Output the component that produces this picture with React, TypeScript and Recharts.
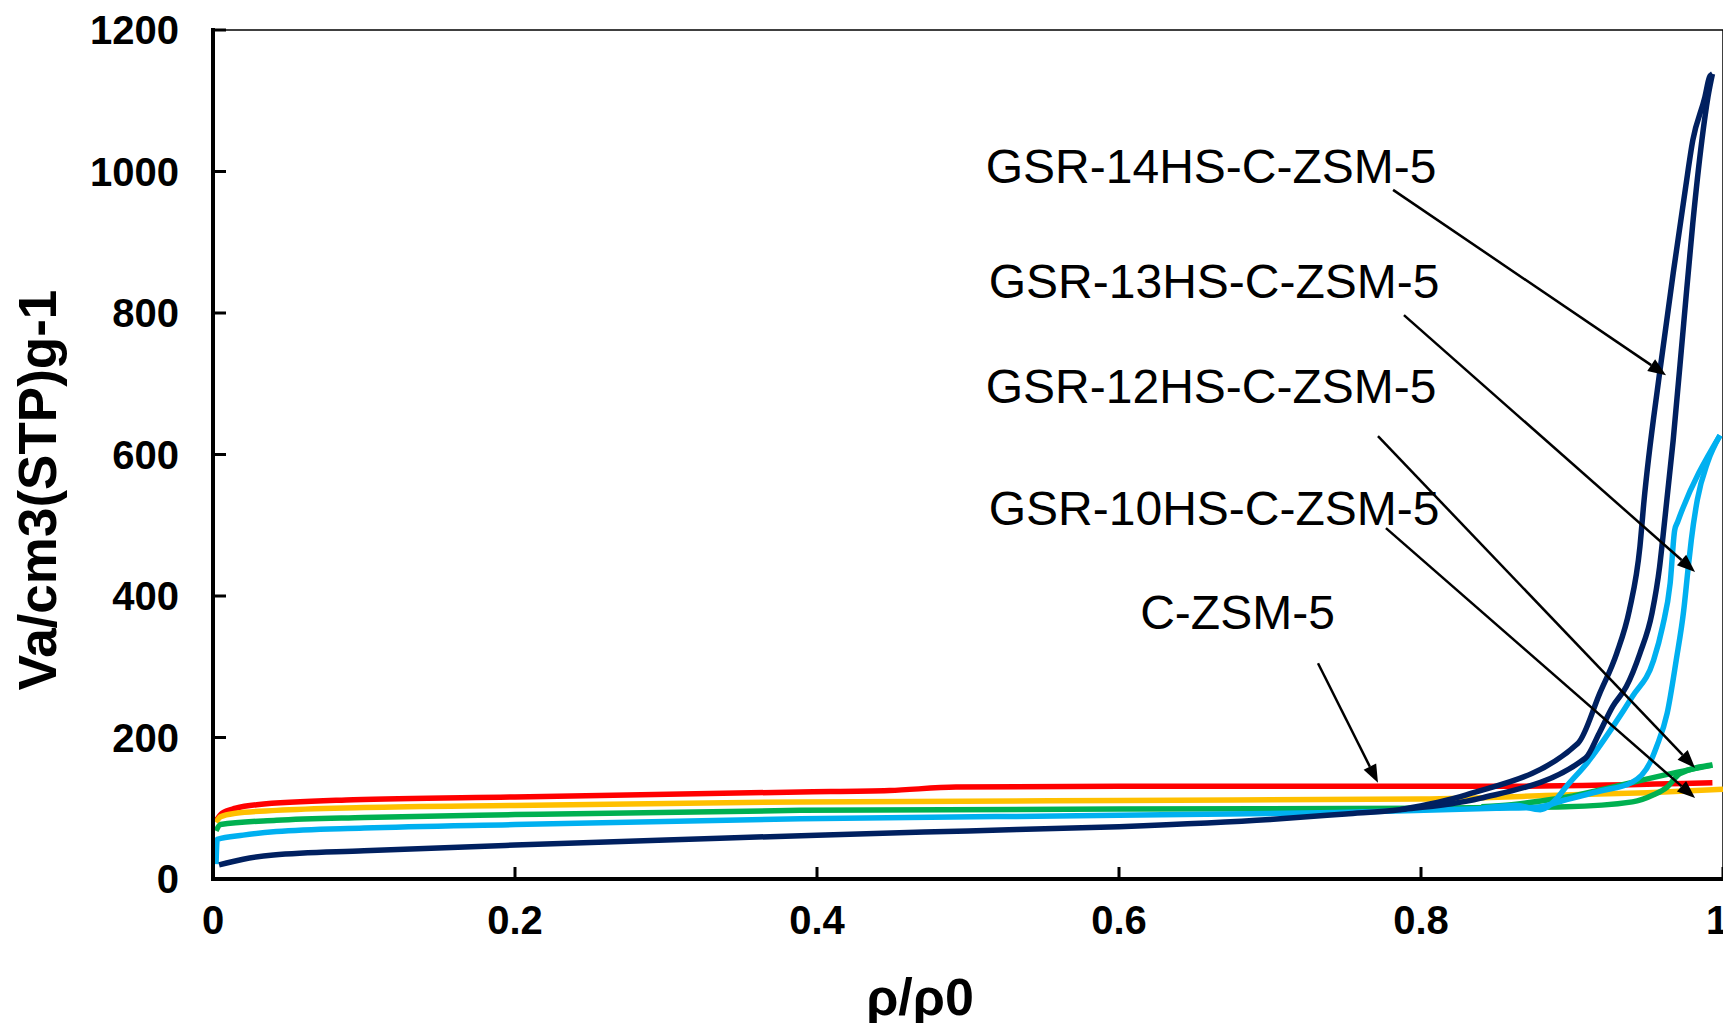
import React from "react";
import {
  LineChart,
  Line,
  XAxis,
  YAxis,
  ReferenceLine,
  ReferenceDot,
  Label,
} from "recharts";

// axis ticks
const xTicks = [0, 0.2, 0.4, 0.6, 0.8, 1];
const yTicks = [0, 200, 400, 600, 800, 1000, 1200];

// isotherms: [p/p0, Va]
const cZsm5: [number, number][] = [
  [0.002, 82], [0.006, 93], [0.015, 100], [0.029, 105], [0.093, 112],
  [0.2, 116], [0.389, 123], [0.448, 125], [0.492, 130], [0.6, 131],
  [0.852, 131], [0.993, 136],
];

const gsr10: [number, number][] = [
  [0.002, 80], [0.005, 88], [0.015, 93], [0.042, 97], [0.1, 101],
  [0.2, 104], [0.389, 109], [0.6, 111], [0.8, 113], [0.9, 119],
  [0.95, 122], [1.0, 127],
];

const gsr12Ads: [number, number][] = [
  [0.002, 68], [0.005, 77], [0.042, 83], [0.1, 87], [0.2, 91],
  [0.389, 97], [0.6, 99], [0.8, 100], [0.85, 101], [0.896, 102],
  [0.94, 109], [0.954, 119], [0.963, 130], [0.9715, 149], [0.993, 161],
];
const gsr12Des: [number, number][] = [
  [0.84, 102], [0.86, 105], [0.885, 112], [0.9, 117], [0.923, 128],
  [0.945, 139], [0.97, 151], [0.993, 161],
];

const gsr13Ads: [number, number][] = [
  [0.002, 21], [0.0028, 56], [0.02, 62], [0.042, 67], [0.1, 72],
  [0.2, 77], [0.389, 85], [0.6, 90], [0.744, 94], [0.85, 100],
  [0.875, 101], [0.896, 112], [0.918, 124], [0.94, 137], [0.952, 166],
  [0.956, 187], [0.963, 234], [0.969, 309], [0.974, 380], [0.977, 441],
  [0.979, 479], [0.983, 536], [0.99, 590], [0.998, 627],
];
const gsr13Des: [number, number][] = [
  [0.84, 100], [0.863, 104], [0.879, 98], [0.89, 114], [0.896, 130],
  [0.91, 164], [0.927, 215], [0.94, 258], [0.954, 309], [0.96, 357],
  [0.965, 418], [0.968, 493], [0.97, 505], [0.998, 627],
];

const gsr14Ads: [number, number][] = [
  [0.004, 20], [0.02, 28], [0.04, 34], [0.1, 40], [0.2, 48],
  [0.3, 55], [0.4, 62], [0.5, 68], [0.6, 74], [0.7, 84],
  [0.75, 92], [0.786, 98], [0.839, 114], [0.909, 171], [0.918, 206],
  [0.927, 244], [0.936, 272], [0.945, 319], [0.953, 376], [0.958, 441],
  [0.96, 479], [0.967, 620], [0.974, 786], [0.98, 927], [0.986, 1044],
  [0.99, 1105], [0.993, 1138],
];
const gsr14Des: [number, number][] = [
  [0.786, 98], [0.83, 119], [0.904, 192], [0.9185, 263], [0.9296, 319],
  [0.938, 380], [0.945, 470], [0.9475, 530], [0.958, 715], [0.967, 856],
  [0.975, 974], [0.98, 1044], [0.988, 1105], [0.991, 1133], [0.993, 1138],
];

const toXY = (a: [number, number][]) => a.map(([x, y]) => ({ x, y }));

const series = [
  { key: "c", color: "#FF0000", data: cZsm5 },
  { key: "g10", color: "#FFC000", data: gsr10 },
  { key: "g12a", color: "#00B050", data: gsr12Ads },
  { key: "g12d", color: "#00B050", data: gsr12Des },
  { key: "g13a", color: "#00B0F0", data: gsr13Ads },
  { key: "g13d", color: "#00B0F0", data: gsr13Des },
  { key: "g14a", color: "#002060", data: gsr14Ads },
  { key: "g14d", color: "#002060", data: gsr14Des },
];

// callouts: label text, label anchor (centre x, baseline y), arrow from -> to
const callouts = [
  { text: "GSR-14HS-C-ZSM-5", at: [0.661, 984], from: [0.7815, 974], to: [0.9623, 712] },
  { text: "GSR-13HS-C-ZSM-5", at: [0.663, 821], from: [0.7887, 797], to: [0.9815, 434] },
  { text: "GSR-12HS-C-ZSM-5", at: [0.661, 673], from: [0.7715, 626], to: [0.9815, 157] },
  { text: "GSR-10HS-C-ZSM-5", at: [0.663, 500], from: [0.7768, 496], to: [0.9815, 114.5] },
  { text: "C-ZSM-5", at: [0.6785, 353], from: [0.7318, 305], to: [0.7715, 136] },
];

const FONT = "'Liberation Sans', Arial, Helvetica, sans-serif";

const YTick = ({ x, y, payload }: any) => (
  <g>
    <line x1={x} y1={y} x2={x + 13} y2={y} stroke="#000" strokeWidth={3} />
    <text
      x={x - 34}
      y={y}
      dy={14}
      textAnchor="end"
      fontFamily={FONT}
      fontWeight="bold"
      fontSize={40}
      fill="#000"
    >
      {payload.value}
    </text>
  </g>
);

const XTick = ({ x, y, payload }: any) => (
  <g>
    <line x1={x} y1={y} x2={x} y2={y - 12} stroke="#000" strokeWidth={3} />
    <text
      x={x}
      y={y}
      dx={payload.value === 1 ? -6 : 0}
      dy={55}
      textAnchor="middle"
      fontFamily={FONT}
      fontWeight="bold"
      fontSize={40}
      fill="#000"
    >
      {payload.value}
    </text>
  </g>
);

const Arrow = (props: any) => {
  const { x1, y1, x2, y2 } = props;
  const ang = Math.atan2(y2 - y1, x2 - x1);
  const len = 18;
  const half = 7;
  const bx = x2 - len * Math.cos(ang);
  const by = y2 - len * Math.sin(ang);
  const pts = `${x2},${y2} ${bx - half * Math.sin(ang)},${by + half * Math.cos(ang)} ${
    bx + half * Math.sin(ang)
  },${by - half * Math.cos(ang)}`;
  return (
    <g>
      <line x1={x1} y1={y1} x2={bx} y2={by} stroke="#000" strokeWidth={2.5} />
      <polygon points={pts} fill="#000" />
    </g>
  );
};

const calloutText = (text: string) => (props: any) => (
  <text
    x={props.cx}
    y={props.cy}
    textAnchor="middle"
    fontFamily={FONT}
    fontSize={48}
    fill="#000"
  >
    {text}
  </text>
);

export default function App() {
  return (
    <div style={{ width: 1731, height: 1031, margin: -8, background: "#fff" }}>
      <LineChart
        width={1731}
        height={1031}
        margin={{ top: 30, right: 8, bottom: 52, left: 63 }}
      >
        <XAxis
          type="number"
          dataKey="x"
          domain={[0, 1]}
          ticks={xTicks}
          allowDataOverflow
          height={100}
          tickSize={0}
          tickMargin={0}
          tick={<XTick />}
          axisLine={{ stroke: "#000", strokeWidth: 4, strokeLinecap: "square" }}
          tickLine={false}
        >
          <Label
            content={() => (
              <text
                x={920}
                y={1015}
                textAnchor="middle"
                fontFamily={FONT}
                fontWeight="bold"
                fontSize={52}
                fill="#000"
              >
                ρ/ρ0
              </text>
            )}
          />
        </XAxis>
        <YAxis
          type="number"
          domain={[0, 1200]}
          ticks={yTicks}
          allowDataOverflow
          width={150}
          tickSize={0}
          tickMargin={0}
          tick={<YTick />}
          axisLine={{ stroke: "#000", strokeWidth: 4, strokeLinecap: "square" }}
          tickLine={false}
        >
          <Label
            content={() => (
              <text
                x={56}
                y={490}
                textAnchor="middle"
                transform="rotate(-90, 56, 490)"
                fontFamily={FONT}
                fontWeight="bold"
                fontSize={53}
                fill="#000"
              >
                Va/cm3(STP)g-1
              </text>
            )}
          />
        </YAxis>

        <ReferenceLine y={1200} stroke="#000" strokeWidth={1.5} />
        <ReferenceLine x={1} stroke="#000" strokeWidth={1.5} />

        {series.map((s) => (
          <Line
            key={s.key}
            data={toXY(s.data)}
            dataKey="y"
            type="monotone"
            stroke={s.color}
            strokeWidth={5.5}
            dot={false}
            activeDot={false}
            isAnimationActive={false}
          />
        ))}

        {callouts.map((c) => (
          <ReferenceLine
            key={c.text + "-arrow"}
            segment={[
              { x: c.from[0], y: c.from[1] },
              { x: c.to[0], y: c.to[1] },
            ]}
            shape={Arrow}
          />
        ))}
        {callouts.map((c) => (
          <ReferenceDot
            key={c.text}
            x={c.at[0]}
            y={c.at[1]}
            r={0}
            shape={calloutText(c.text)}
          />
        ))}
      </LineChart>
    </div>
  );
}
